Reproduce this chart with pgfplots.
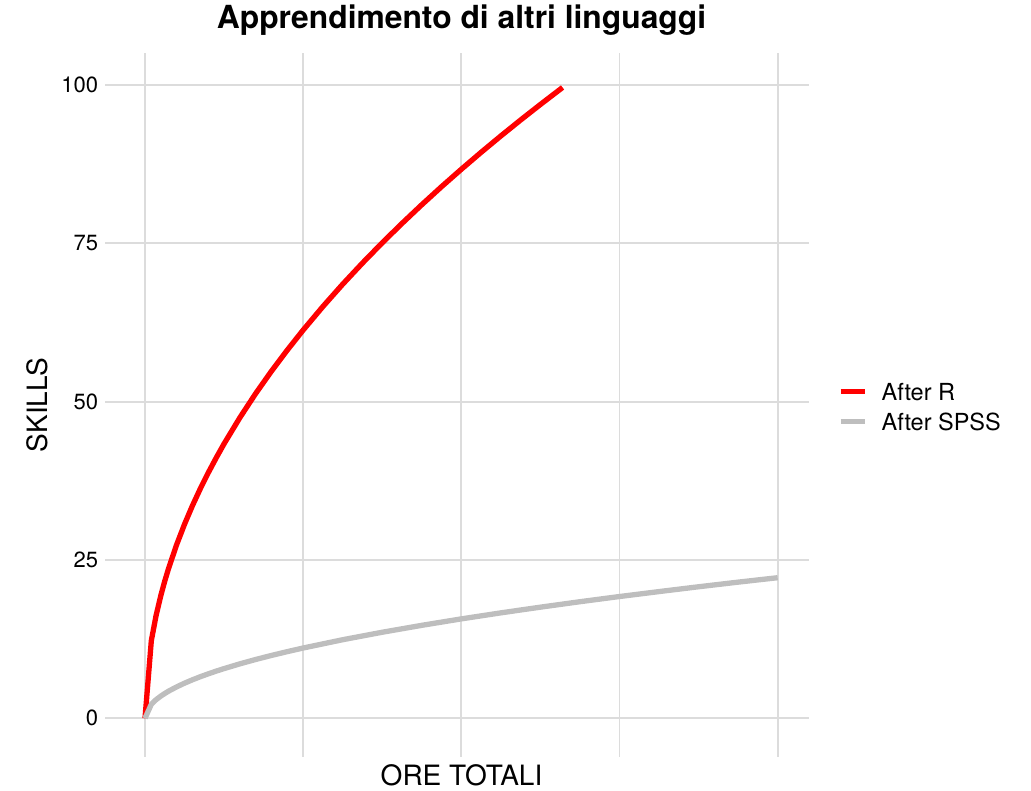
\documentclass[border=0pt]{standalone}
\usepackage{fontspec}
\setmainfont{TeX Gyre Heros}
\usepackage{pgfplots}
\pgfplotsset{compat=1.18}
\definecolor{gridc}{RGB}{220,220,220}
\definecolor{sgray}{RGB}{190,190,190}
\begin{document}
\begin{tikzpicture}[x=1pt,y=1pt]
\useasboundingbox (0,0) rectangle (1031,791);
\begin{axis}[
  at={(105.3pt,34.3pt)}, anchor=south west,
  scale only axis, width=704pt, height=703.4pt,
  xmin=-0.251, xmax=4.2, ymin=-6.06, ymax=105,
  axis line style={draw=none},
  tick style={draw=none},
  major tick length=0pt,
  xtick={0,1,2,3,4}, xticklabels={},
  ytick={0,25,50,75,100},
  grid=major,
  major grid style={gridc, line width=1.9pt},
  ticklabel style={font=\fontsize{22}{26}\selectfont},
  yticklabel style={anchor=east, inner sep=0pt, xshift=-7pt},
  /pgf/number format/assume math mode=true,
  title={Apprendimento di altri linguaggi},
  title style={at={(axis description cs:0.506,1.0264)}, anchor=base, inner sep=0pt, font=\bfseries\fontsize{31.8}{36}\selectfont},
  xlabel={ORE TOTALI},
  xlabel style={at={(axis description cs:0.506,-0.0403)}, anchor=base, inner sep=0pt, font=\fontsize{28}{32}\selectfont},
  ylabel={SKILLS},
  ylabel style={at={(axis description cs:-0.0828,0.5)}, anchor=base, inner sep=0pt, font=\fontsize{28}{32}\selectfont},
  legend style={draw=none, fill=none, at={(axis description cs:1.0408,0.5308)}, anchor=north west,
    inner sep=0pt, outer sep=0pt, font=\fontsize{23.5}{28}\selectfont, row sep=13pt,
    nodes={inner sep=0pt, text height=17pt, text depth=0pt}},
  legend cell align=left,
  legend image code/.code={\draw[#1, line width=5pt] (0pt,0pt) -- (24pt,0pt);},
  /tikz/every odd column/.style={column sep=14.7pt},
]
\addplot[red, line width=5.3pt, line join=round, no markers] coordinates {
 (0,0) (0.04,12.26) (0.07,16.22) (0.1,19.38) (0.125,21.67) (0.15,23.74) (0.2,27.41)
 (0.25,30.65) (0.3,33.58) (0.35,36.27) (0.4,38.77) (0.45,41.12) (0.5,43.35)
 (0.6,47.48) (0.7,51.29) (0.8,54.83) (0.9,58.15) (1,61.30) (1.125,65.02)
 (1.25,68.54) (1.375,71.88) (1.5,75.08) (1.625,78.14) (1.75,81.09) (1.875,83.94)
 (2,86.69) (2.125,89.36) (2.25,91.95) (2.375,94.47) (2.5,96.92) (2.64,99.60)
};
\addlegendentry{After R}
\addplot[sgray, line width=5.3pt, line join=round, no markers] coordinates {
 (0,0) (0.04,2.22) (0.07,2.94) (0.1,3.51) (0.125,3.92) (0.15,4.30) (0.2,4.96)
 (0.25,5.55) (0.3,6.08) (0.35,6.57) (0.4,7.02) (0.45,7.45) (0.5,7.85)
 (0.6,8.60) (0.7,9.29) (0.8,9.93) (0.9,10.53) (1,11.10) (1.25,12.41)
 (1.5,13.59) (1.75,14.68) (2,15.70) (2.25,16.65) (2.5,17.55) (2.75,18.41)
 (3,19.23) (3.25,20.01) (3.5,20.77) (3.75,21.50) (4,22.20)
};
\addlegendentry{After SPSS}
\end{axis}
\end{tikzpicture}
\end{document}
